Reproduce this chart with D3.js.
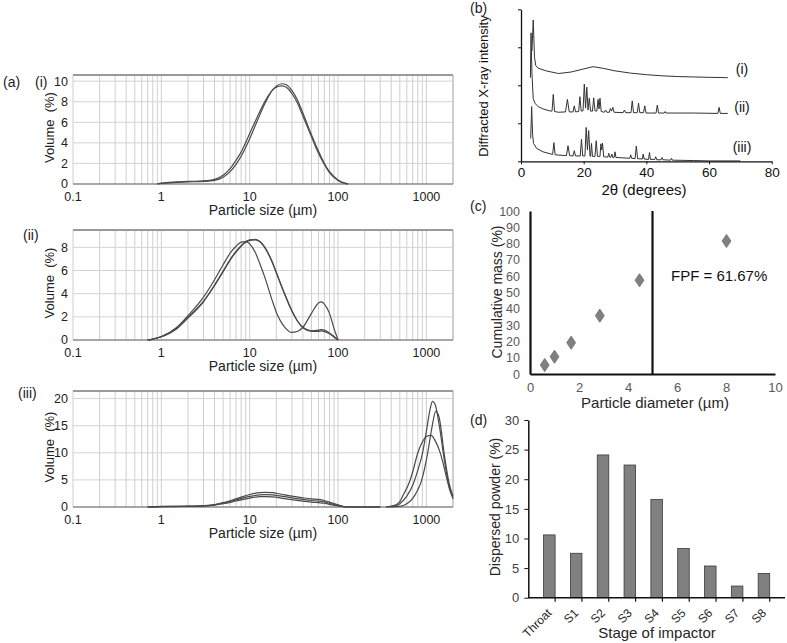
<!DOCTYPE html>
<html><head><meta charset="utf-8">
<script src="https://cdn.jsdelivr.net/npm/d3@7"></script>
<style>body{margin:0;background:#fff}svg{display:block;font-family:"Liberation Sans",Arial,sans-serif}</style>
</head><body><svg id="fig" width="787" height="643"></svg>
<script>
// ---------- Panel (a) particle size distributions ----------
const sizesA1 = [0.9,1,1.5,2,3,4,5,6,7,8,10,12,15,18,20,23,26,30,35,40,50,60,70,80,100,120,130];
const volA1a = [0,0.1,0.2,0.25,0.3,0.45,0.85,1.5,2.3,3.1,4.9,6.4,8.1,9.1,9.4,9.55,9.4,8.8,7.8,6.6,4.6,3.0,1.9,1.1,0.35,0.05,0];
const volA1b = [0,0.05,0.15,0.2,0.25,0.35,0.65,1.2,1.9,2.7,4.4,6.0,7.9,9.1,9.5,9.75,9.65,9.1,8.1,6.9,4.8,3.2,2.0,1.2,0.4,0.08,0];

const sizesA2 = [0.7,0.8,1,1.5,2,3,4,5,6,7,8,9,10,11.5,13,15,18,20,25,30,35,40,50,60,65,70,80,90,100];
const volA2a = [0,0.08,0.3,1.1,2.1,3.7,5.2,6.5,7.5,8.1,8.45,8.5,8.3,7.6,6.6,5.3,3.4,2.4,1.1,0.65,0.75,1.1,2.3,3.2,3.3,3.1,2.3,1.0,0];
const volA2b = [0,0.07,0.28,1.0,1.9,3.3,4.7,5.9,6.9,7.6,8.1,8.45,8.6,8.65,8.5,7.9,6.7,5.8,3.9,2.5,1.6,1.1,0.8,0.85,0.9,0.85,0.6,0.3,0];
const volA2c = [0,0.07,0.28,1.0,1.95,3.35,4.75,5.95,6.95,7.65,8.15,8.5,8.65,8.7,8.5,7.95,6.75,5.85,3.95,2.55,1.6,1.05,0.75,0.75,0.78,0.72,0.55,0.25,0];

const sizesA3low = [0.7,1,2,3,4,5,7,10,13,15,18,22,30,40,50,60,70,80,100,130,300];
const volA3aLow = [0,0.1,0.15,0.25,0.45,0.8,1.5,2.3,2.65,2.7,2.65,2.4,2.0,1.7,1.5,1.4,1.2,0.9,0.4,0,0];
const volA3bLow = [0,0.08,0.12,0.2,0.4,0.7,1.3,1.95,2.25,2.3,2.25,2.05,1.7,1.4,1.2,1.1,0.95,0.7,0.3,0,0];
const volA3cLow = [0,0.07,0.1,0.18,0.35,0.6,1.1,1.65,1.9,1.9,1.85,1.7,1.35,1.1,0.9,0.8,0.7,0.5,0.2,0,0];
const sizesA3aHigh = [350,450,500,600,700,800,900,1000,1100,1170,1250,1400,1600,1800,2000];
const volA3aHigh   = [0,0.2,0.6,2.0,4.0,6.8,9.8,14,18,19.5,19,15,8.5,4,1.5];
const sizesA3bHigh = [400,500,600,700,800,870,950,1035,1150,1280,1400,1600,1800,2000];
const volA3bHigh   = [0,0.1,0.6,1.6,3.2,4.6,7,10,14.5,17.7,16.4,9.5,4.5,2.0];
const sizesA3cHigh = [350,420,500,550,643,700,800,900,1000,1130,1250,1400,1550,1670,1850,2000];
const volA3cHigh   = [0,0.2,1.0,2.3,4.6,6.5,10,12,13,13.2,12.3,10.5,8,5.8,3,1.7];

const yTicksA1 = [0,2,4,6,8,10];
const yTicksA2 = [0,2,4,6,8];
const yTicksA3 = [0,5,10,15,20];
const xTickLabelsA = [0.1,1,10,100,1000];

// ---------- Panel (b) XRD ----------
const xrdI = [[3.5,2.9],[3.9,3.72],[4.3,2.75],[4.7,2.52],[5.5,2.45],[8,2.38],[12,2.31],[16,2.35],[20,2.43],[23,2.49],[26,2.45],[30,2.38],[35,2.32],[40,2.28],[45,2.25],[50,2.23],[55,2.22],[60,2.21],[66,2.2]];
const xrdII = [[3.0,2.2],[3.2,3.38],[3.5,2.3],[3.9,1.65],[4.5,1.52],[5.5,1.44],[7,1.38],[9,1.33],[9.9,1.32],[10.3,1.76],[10.7,1.31],[12,1.29],[14.2,1.3],[14.8,1.63],[15.4,1.3],[16.6,1.3],[17,1.46],[17.4,1.3],[18.4,1.31],[18.8,1.70],[19.2,1.32],[19.8,1.33],[20.2,2.03],[20.6,1.4],[21.0,1.95],[21.4,1.35],[21.8,1.66],[22.2,1.32],[22.8,1.32],[23.2,1.67],[23.6,1.33],[24.2,1.32],[24.6,1.63],[24.9,1.38],[25.2,1.66],[25.6,1.31],[26.6,1.29],[27,1.35],[27.4,1.29],[28.2,1.29],[28.5,1.39],[28.9,1.32],[29.3,1.42],[29.7,1.29],[32.6,1.28],[33,1.35],[33.4,1.28],[35.1,1.28],[35.5,1.59],[35.9,1.28],[37.1,1.28],[37.5,1.53],[37.9,1.28],[39.1,1.28],[39.5,1.46],[39.9,1.27],[43.1,1.27],[43.5,1.48],[43.9,1.27],[45.7,1.27],[46,1.31],[46.3,1.27],[55,1.27],[62.8,1.26],[63.2,1.42],[63.6,1.26],[66,1.26]];
const xrdIII = [[3.1,0.6],[3.4,1.44],[3.7,0.7],[4,0.47],[5,0.34],[7,0.25],[10.1,0.18],[10.5,0.49],[10.9,0.17],[14.5,0.15],[15,0.41],[15.5,0.15],[16.6,0.14],[17,0.28],[17.4,0.14],[18.9,0.14],[19.3,0.58],[19.7,0.14],[20.4,0.14],[20.8,0.89],[21.2,0.3],[21.6,0.81],[22.0,0.14],[22.2,0.13],[22.5,0.47],[22.8,0.13],[23.6,0.13],[24,0.54],[24.4,0.13],[25.2,0.13],[25.5,0.46],[25.75,0.3],[26,0.48],[26.4,0.12],[27.7,0.11],[28,0.21],[28.3,0.11],[28.7,0.11],[29,0.19],[29.3,0.1],[29.7,0.1],[30,0.25],[30.3,0.1],[34.7,0.08],[35,0.17],[35.3,0.08],[36.4,0.07],[36.8,0.40],[37.2,0.07],[38.7,0.06],[39,0.19],[39.3,0.06],[40.7,0.05],[41,0.23],[41.3,0.05],[42.7,0.05],[43,0.12],[43.3,0.04],[44.7,0.04],[45,0.10],[45.3,0.04],[47.7,0.03],[48,0.08],[48.3,0.03],[55,0.02],[60,0.01],[70,0.01]];
const xrdLabels = ["(i)","(ii)","(iii)"];
const xrdLabelLevels = [2.43,1.42,0.38];
const xTicksB = [0,20,40,60,80];

// ---------- Panel (c) cumulative mass ----------
const cutDiam = [0.6,1.0,1.68,2.85,4.47,8.02];
const cumMass = [5.5,10.6,19.2,35.8,57.5,81.6];
const fpfCut = 5;
const fpfText = "FPF = 61.67%";

// ---------- Panel (d) impactor stages ----------
const stages = ["Throat","S1","S2","S3","S4","S5","S6","S7","S8"];
const dispersed = [10.6,7.5,24.1,22.4,16.6,8.3,5.35,1.97,4.1];

const svg = d3.select("#fig");
const FONT = "'Liberation Sans',Arial,sans-serif";

// ---------- draw (a) ----------
const xA = d3.scaleLog().domain([0.1,2000]).range([73,453]);
const minorVals = [];
[0.1,1,10,100,1000].forEach(dec=>{for(let k=1;k<=9;k++){const v=dec*k; if(v<=2000) minorVals.push(v);}});

function sizePanel(top, bottom, yMax, yTicks, series, label, labelPos){
  const g = svg.append("g");
  const y = d3.scaleLinear().domain([0,yMax]).range([bottom,top]);
  g.selectAll(".vg").data(minorVals).join("line")
    .attr("x1",d=>xA(d)).attr("x2",d=>xA(d)).attr("y1",top).attr("y2",bottom)
    .attr("stroke","#cfcfcf").attr("stroke-width",1);
  g.append("line").attr("x1",453).attr("x2",453).attr("y1",top).attr("y2",bottom).attr("stroke","#b5b5b5");
  g.selectAll(".hg").data(yTicks.filter(t=>t>0)).join("line")
    .attr("x1",73).attr("x2",453).attr("y1",d=>y(d)).attr("y2",d=>y(d))
    .attr("stroke","#d4d4d4").attr("stroke-width",1);
  g.append("line").attr("x1",73).attr("x2",453).attr("y1",top).attr("y2",top).attr("stroke","#9a9a9a").attr("stroke-width",2);
  g.append("line").attr("x1",73).attr("x2",453).attr("y1",bottom).attr("y2",bottom).attr("stroke","#8a8a8a").attr("stroke-width",1.5);
  const line = d3.line().x(d=>xA(d[0])).y(d=>y(d[1])).curve(d3.curveMonotoneX);
  series.forEach(s=>{
    g.append("path").attr("d",line(s)).attr("fill","none").attr("stroke","#4a4a4a").attr("stroke-width",1.2);
  });
  g.selectAll(".yt").data(yTicks).join("text")
    .attr("x",68).attr("y",d=>y(d)).attr("dy","0.35em").attr("text-anchor","end")
    .attr("font-size",12.5).attr("fill","#222").text(d=>d);
  g.selectAll(".xt").data(xTickLabelsA).join("text")
    .attr("x",d=>xA(d)).attr("y",bottom+12.5).attr("dy","0.35em").attr("text-anchor","middle")
    .attr("font-size",12.5).attr("fill","#222").text(d=>d);
  g.append("text").attr("x",263).attr("y",bottom+26.5).attr("dy","0.35em").attr("text-anchor","middle")
    .attr("font-size",14).attr("fill","#222").text("Particle size (µm)");
  g.append("text").attr("transform",`translate(49,${(top+bottom)/2 - 2}) rotate(-90)`)
    .attr("text-anchor","middle").attr("dy","0.35em").attr("font-size",13).attr("fill","#222")
    .attr("xml:space","preserve").text("Volume  (%)");
  g.append("text").attr("x",labelPos[0]).attr("y",labelPos[1]).attr("dy","0.35em")
    .attr("font-size",14).attr("fill","#222").text(label);
}
const zip = (xs,ys)=>xs.map((x,i)=>[x,ys[i]]);
sizePanel(75,184,10.6,yTicksA1,[zip(sizesA1,volA1a),zip(sizesA1,volA1b)],"(i)",[35,82]);
svg.append("text").attr("x",3).attr("y",82).attr("dy","0.35em").attr("font-size",14).attr("fill","#222").text("(a)");
sizePanel(230,340,9.5,yTicksA2,[zip(sizesA2,volA2a),zip(sizesA2,volA2b),zip(sizesA2,volA2c)],"(ii)",[23,235]);
sizePanel(391,507,21.4,yTicksA3,[
  zip(sizesA3low,volA3aLow),zip(sizesA3low,volA3bLow),zip(sizesA3low,volA3cLow),
  zip(sizesA3aHigh,volA3aHigh),zip(sizesA3bHigh,volA3bHigh),zip(sizesA3cHigh,volA3cHigh)],"(iii)",[18,393]);

// ---------- draw (b) ----------
(function(){
  const g = svg.append("g");
  const x = d3.scaleLinear().domain([0,80]).range([521,771.7]);
  const y = d3.scaleLinear().domain([0,4]).range([161.3,9.3]);
  const line = d3.line().x(d=>x(d[0])).y(d=>y(d[1]));
  [xrdI,xrdII,xrdIII].forEach(s=>g.append("path").attr("d",line(s)).attr("fill","none").attr("stroke","#333").attr("stroke-width",1));
  const ax = g.append("g").attr("transform","translate(0,161.3)")
    .call(d3.axisBottom(x).tickValues(xTicksB).tickSize(3).tickSizeOuter(0).tickPadding(5));
  ax.select(".domain").attr("stroke","#111").attr("stroke-width",1.3);
  ax.selectAll("line").attr("stroke","#111");
  ax.selectAll("text").attr("font-size",13.5).attr("font-family",FONT).attr("fill","#111").attr("dy","0.6em");
  const ay = g.append("g").attr("transform","translate(521,0)")
    .call(d3.axisLeft(y).ticks(4).tickSize(3).tickSizeOuter(0).tickFormat(""));
  ay.select(".domain").attr("stroke","#111").attr("stroke-width",1.3);
  ay.selectAll("line").attr("stroke","#111");
  g.selectAll(".lb").data(xrdLabels).join("text")
    .attr("x",742).attr("y",(d,i)=>y(xrdLabelLevels[i])).attr("dy","0.35em").attr("text-anchor","middle")
    .attr("font-size",14).attr("fill","#111").text(d=>d);
  g.append("text").attr("x",644).attr("y",190).attr("dy","0.35em").attr("text-anchor","middle")
    .attr("font-size",15).attr("fill","#111").text("2θ (degrees)");
  g.append("text").attr("transform","translate(483,86) rotate(-90)").attr("dy","0.35em").attr("text-anchor","middle")
    .attr("font-size",13).attr("fill","#111").text("Diffracted X-ray intensity");
  g.append("text").attr("x",470).attr("y",8).attr("dy","0.35em").attr("font-size",14).attr("fill","#222").text("(b)");
})();

// ---------- draw (c) ----------
(function(){
  const g = svg.append("g");
  const x = d3.scaleLinear().domain([0,10]).range([530,775]);
  const y = d3.scaleLinear().domain([0,100]).range([374,211]);
  const ay = g.append("g").attr("transform","translate(530,0)")
    .call(d3.axisLeft(y).tickValues(d3.range(0,101,10)).tickSize(0).tickPadding(10).tickSizeOuter(0));
  ay.select(".domain").attr("stroke","#111").attr("stroke-width",2.2);
  ay.selectAll("text").attr("font-size",12.5).attr("font-family",FONT).attr("fill","#595959");
  const ax = g.append("g").attr("transform","translate(0,374)")
    .call(d3.axisBottom(x).tickValues(d3.range(0,11,2)).tickSize(0).tickPadding(9).tickSizeOuter(0));
  ax.select(".domain").attr("stroke","#111").attr("stroke-width",2.2);
  ax.selectAll("text").attr("font-size",13).attr("font-family",FONT).attr("fill","#595959").attr("dy","0.71em");
  g.append("line").attr("x1",x(fpfCut)).attr("x2",x(fpfCut)).attr("y1",y(100)).attr("y2",y(0))
    .attr("stroke","#111").attr("stroke-width",2.2);
  const sym = d3.symbol().type(d3.symbolDiamond).size(62);
  g.selectAll(".pt").data(cutDiam.map((d,i)=>[d,cumMass[i]])).join("path")
    .attr("d",sym).attr("transform",d=>`translate(${x(d[0])},${y(d[1])}) scale(1.05,0.9)`)
    .attr("fill","#808080").attr("stroke","#6a6a6a").attr("stroke-width",0.8);
  g.append("text").attr("x",671).attr("y",y(60)).attr("dy","0.35em").attr("font-size",15)
    .attr("fill","#111").text(fpfText);
  g.append("text").attr("x",655).attr("y",403).attr("dy","0.35em").attr("text-anchor","middle")
    .attr("font-size",15).attr("fill","#262626").text("Particle diameter (µm)");
  g.append("text").attr("transform","translate(497,292) rotate(-90)").attr("dy","0.35em").attr("text-anchor","middle")
    .attr("font-size",14).attr("fill","#262626").text("Cumulative mass (%)");
  g.append("text").attr("x",470).attr("y",206).attr("dy","0.35em").attr("font-size",14).attr("fill","#222").text("(c)");
})();

// ---------- draw (d) ----------
(function(){
  const g = svg.append("g");
  const x = d3.scaleBand().domain(stages).range([528.3,785]).padding(0.57);
  const y = d3.scaleLinear().domain([0,30]).range([597.7,420]);
  g.selectAll(".bar").data(stages.map((s,i)=>[s,dispersed[i]])).join("rect")
    .attr("x",d=>x(d[0])).attr("width",x.bandwidth()).attr("y",d=>y(d[1])).attr("height",d=>y(0)-y(d[1]))
    .attr("fill","#808080").attr("stroke","#3a3a3a").attr("stroke-width",0.8);
  const ay = g.append("g").attr("transform","translate(528.3,0)")
    .call(d3.axisLeft(y).tickValues(d3.range(0,31,5)).tickSize(4).tickPadding(5).tickSizeOuter(0));
  ay.select(".domain").attr("stroke","#111").attr("stroke-width",1.5);
  ay.selectAll("line").attr("stroke","#111");
  ay.selectAll("text").attr("font-size",13).attr("font-family",FONT).attr("fill","#404040");
  g.append("line").attr("x1",528.3).attr("x2",785).attr("y1",y(0)).attr("y2",y(0)).attr("stroke","#111").attr("stroke-width",1.5);
  const step = x.step();
  g.selectAll(".xtk").data(d3.range(1,stages.length+1)).join("line")
    .attr("x1",d=>528.3+d*step).attr("x2",d=>528.3+d*step).attr("y1",y(0)).attr("y2",y(0)+4)
    .attr("stroke","#111").attr("stroke-width",1.2);
  g.selectAll(".xl").data(stages).join("text")
    .attr("transform",d=>`translate(${x(d)+x.bandwidth()/2},${y(0)+13}) rotate(-45)`)
    .attr("text-anchor","end").attr("dy","0.35em").attr("font-size",12).attr("fill","#262626").text(d=>d);
  g.append("text").attr("x",657).attr("y",632.5).attr("dy","0.35em").attr("text-anchor","middle")
    .attr("font-size",15).attr("fill","#262626").text("Stage of impactor");
  g.append("text").attr("transform","translate(495,507) rotate(-90)").attr("dy","0.35em").attr("text-anchor","middle")
    .attr("font-size",14).attr("fill","#262626").text("Dispersed powder (%)");
  g.append("text").attr("x",470).attr("y",420).attr("dy","0.35em").attr("font-size",14).attr("fill","#222").text("(d)");
})();
</script></body></html>
